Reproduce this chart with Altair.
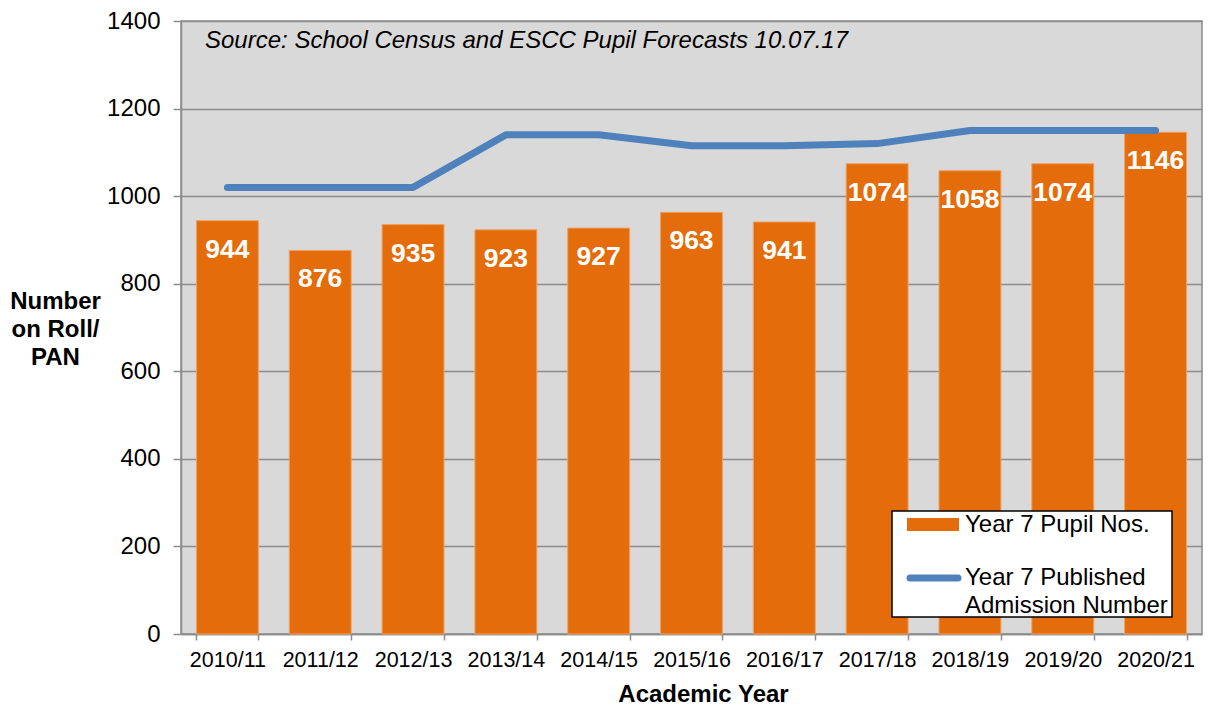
import altair as alt
import pandas as pd

years = ["2010/11", "2011/12", "2012/13", "2013/14", "2014/15", "2015/16",
         "2016/17", "2017/18", "2018/19", "2019/20", "2020/21"]
pupils = [944, 876, 935, 923, 927, 963, 941, 1074, 1058, 1074, 1146]
pan = [1020, 1020, 1020, 1140, 1140, 1115, 1115, 1120, 1150, 1150, 1150]
y_ticks = [0, 200, 400, 600, 800, 1000, 1200, 1400]
source_note = ["Source: School Census and ESCC Pupil Forecasts 10.07.17"]
legend_bar_label = ["Year 7 Pupil Nos."]
legend_line_label = ["Year 7 Published", "Admission Number"]

FONT = "Liberation Sans"
ORANGE = "#E46C0A"
BLUE = "#4F81BD"
GRAY = "#8C8C8C"

TOP = 13  # plot starts 2px lower than 19 so the "1400" label is not clipped

df = pd.DataFrame({"year": years, "pupils": pupils, "pan": pan})
one = pd.DataFrame({"k": [0]})

x_enc = alt.X(
    "year:N", sort=years,
    scale=alt.Scale(paddingInner=0.333, paddingOuter=0.1665),
    axis=alt.Axis(
        title="Academic Year", labelAngle=0, tickBand="extent", grid=False,
        labelFontSize=21.5, labelPadding=9, tickSize=6,
        titleFontSize=24, titleFontWeight="bold",
        titleX=522, titleY=67, titleAlign="center", titleBaseline="alphabetic",
    ),
)

y_axis = alt.Axis(
    title=["Number", "on Roll/", "PAN"], values=y_ticks, format="d",
    titleAngle=0, titleX=-126, titleY=268, titleAlign="center",
    titleBaseline="top", titleFontSize=24, titleFontWeight="bold",
    titleLineHeight=28, labelFontSize=24, labelPadding=13, tickSize=8,
    grid=True, gridColor=GRAY, gridWidth=1.5,
)
y_scale = alt.Scale(domain=[0, 1400], nice=False)

bars = alt.Chart(df).mark_bar(color=ORANGE, stroke="#F0A060", strokeWidth=1).encode(
    x=x_enc,
    y=alt.Y("pupils:Q", scale=y_scale, axis=y_axis),
)

labels = alt.Chart(df).mark_text(
    dy=29, baseline="middle", align="center", color="white",
    fontWeight="bold", fontSize=26.5, font=FONT,
).encode(
    x=x_enc,
    y=alt.Y("pupils:Q", scale=y_scale, axis=y_axis),
    text=alt.Text("pupils:Q"),
)

line = alt.Chart(df).mark_line(color=BLUE, strokeWidth=7, strokeCap="round", strokeJoin="round").encode(
    x=x_enc,
    y=alt.Y("pan:Q", scale=y_scale, axis=y_axis),
)

source = alt.Chart(pd.DataFrame({"t": source_note})).mark_text(
    align="left", baseline="middle", fontStyle="italic", fontSize=24, font=FONT, color="black",
).encode(x=alt.value(24), y=alt.value(20), text="t:N")

leg_box = alt.Chart(one).mark_rect(fill="white", stroke="black", strokeWidth=1.5).encode(
    x=alt.value(711), x2=alt.value(991), y=alt.value(490), y2=alt.value(596)
)
leg_swatch = alt.Chart(one).mark_rect(fill=ORANGE).encode(
    x=alt.value(726), x2=alt.value(778), y=alt.value(497), y2=alt.value(510)
)
leg_line = alt.Chart(one).mark_rule(color=BLUE, strokeWidth=7, strokeCap="round").encode(
    x=alt.value(729), x2=alt.value(777), y=alt.value(557)
)
leg_text1 = alt.Chart(pd.DataFrame({"t": legend_bar_label})).mark_text(
    align="left", baseline="middle", fontSize=24, font=FONT, color="black",
).encode(x=alt.value(784), y=alt.value(504), text="t:N")
leg_text2 = alt.Chart(one).mark_text(
    align="left", baseline="middle", fontSize=24, font=FONT, color="black", lineHeight=28,
).encode(x=alt.value(784), y=alt.value(557), text=alt.value(legend_line_label))

chart = alt.layer(
    bars, labels, line, source, leg_box, leg_swatch, leg_line, leg_text1, leg_text2
).properties(
    width=1021, height=613,
    autosize=alt.AutoSizeParams(type="none"),
    padding={"left": 173, "top": TOP, "right": 1, "bottom": 71},
    background="white",
).configure_view(
    fill="#D9D9D9", stroke=GRAY, strokeWidth=1.5,
).configure_axis(
    labelFont=FONT, titleFont=FONT, labelColor="black", titleColor="black",
    domainColor=GRAY, domainWidth=1.5, tickColor=GRAY, tickWidth=1.5,
)

chart.save("out.html", embed_options={"renderer": "svg", "actions": False})
